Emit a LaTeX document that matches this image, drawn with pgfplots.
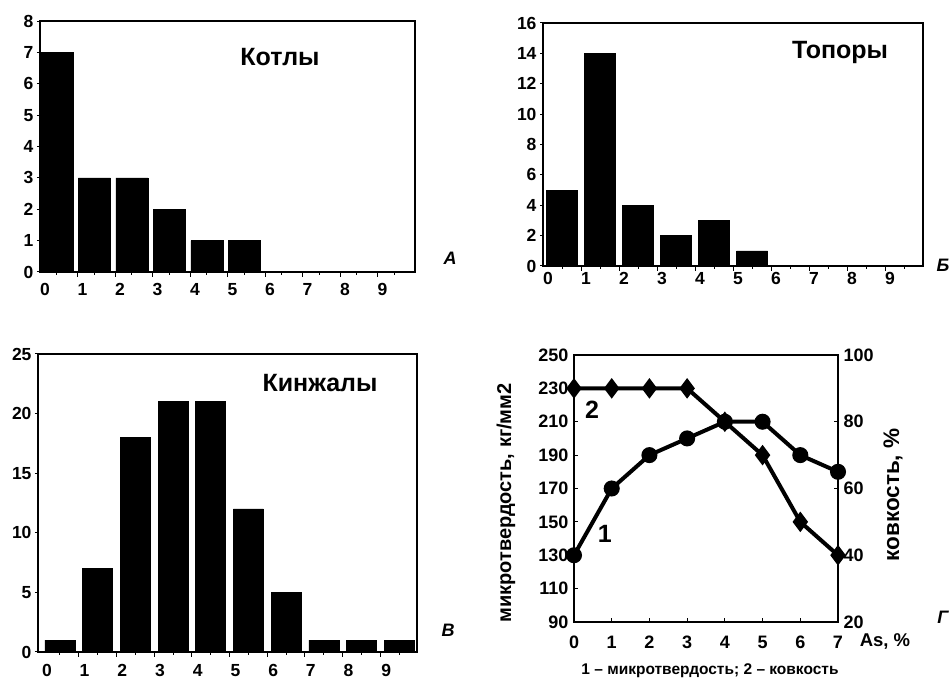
\documentclass[border=0pt]{standalone}
\usepackage{fontspec}
\setmainfont{Liberation Sans}
\usepackage{pgfplots}
\pgfplotsset{compat=1.18}
\newcommand\fs[1]{\fontsize{#1}{#1}\selectfont}

\pgfplotsset{
  hist/.style={
    scale only axis,
    ybar, bar width=31pt,
    axis line style={line width=1.3pt},
    every tick/.style={black, line width=1pt},
    xtick pos=bottom, ytick pos=left,
    tick align=outside, major tick length=3pt,
    /pgf/number format/assume math mode=true,
    tick label style={font=\fs{17.5}\bfseries},
    xtick={0,...,9},
    extra x tick style={xticklabel=\empty, major tick length=5pt},
    ymin=0,
  },
  bars/.style={fill=black, draw=black, line width=0.6pt},
}

\begin{document}
\begin{tikzpicture}[x=1pt, y=1pt]
\path[use as bounding box] (0,0) rectangle (951,679);

% A -- Котлы
\begin{axis}[hist, at={(40pt,407pt)}, anchor=south west, width=375pt, height=251pt,
  xmin=-0.45, xmax=9.55, ymax=8, ytick={0,...,8}, bar width=32pt,
  xticklabel style={anchor=base, xshift=-12pt, yshift=-21pt},
  extra x ticks={0.55,1.55,...,8.55}]
\addplot[bars] coordinates {(0,7) (1,3) (2,3) (3,2) (4,1) (5,1)};
\end{axis}
\node[font=\fs{25}\bfseries] at (280,622) {Котлы};
\node[font=\fs{18}\bfseries\itshape] at (450,421) {А};

% Б -- Топоры
\begin{axis}[hist, at={(543pt,413pt)}, anchor=south west, width=380pt, height=243pt,
  xmin=-0.5, xmax=9.5, ymax=16, ytick={0,2,...,16},
  xticklabel style={anchor=base, xshift=-14pt, yshift=-16pt},
  extra x ticks={0.5,1.5,...,8.5}]
\addplot[bars] coordinates {(0,5) (1,14) (2,4) (3,2) (4,3) (5,1)};
\end{axis}
\node[font=\fs{25}\bfseries] at (840,626) {Топоры};
\node[font=\fs{18}\bfseries\itshape] at (943,414) {Б};

% В -- Кинжалы
\begin{axis}[hist, at={(38pt,27pt)}, anchor=south west, width=379pt, height=298pt,
  xmin=-0.58, xmax=9.47, ymax=25, ytick={0,5,...,25}, bar width=30pt,
  xticklabel style={anchor=base, xshift=-13pt, yshift=-22pt},
  extra x ticks={0.5,1.5,...,8.5}]
\addplot[bars] coordinates {(0,1) (1,7) (2,18) (3,21) (4,21) (5,12) (6,5) (7,1) (8,1) (9,1)};
\end{axis}
\node[font=\fs{25}\bfseries] at (320,296) {Кинжалы};
\node[font=\fs{18}\bfseries\itshape] at (448,49) {В};

% Г -- микротвердость и ковкость
\begin{axis}[scale only axis, at={(574pt,57pt)}, anchor=south west, width=264pt, height=267pt,
  xmin=0, xmax=7, ymin=90, ymax=250, xtick={0,...,7}, ytick={90,110,...,250},
  axis line style={line width=1.3pt}, every tick/.style={black, line width=1pt},
  xtick pos=bottom, ytick pos=left, tick align=inside, major tick length=4pt,
  /pgf/number format/assume math mode=true,
  tick label style={font=\fs{18}\bfseries},
  xticklabel style={anchor=base, yshift=-27pt}, yticklabel style={xshift=-2pt}]
\addplot[black, line width=4pt, mark=*, mark size=6pt] coordinates {
  (0,130) (1,170) (2,190) (3,200) (4,210) (5,210) (6,190) (7,180)};
\node[font=\fs{25}\bfseries] at (axis cs:0.48,217) {2};
\node[font=\fs{25}\bfseries] at (axis cs:0.82,143) {1};
\end{axis}
\begin{axis}[scale only axis, at={(574pt,57pt)}, anchor=south west, width=264pt, height=267pt,
  xmin=0, xmax=7, ymin=20, ymax=100, ytick={20,40,...,100},
  axis x line=none, axis y line*=right,
  axis line style={line width=1.3pt}, every tick/.style={black, line width=1pt},
  tick align=inside, major tick length=4pt,
  /pgf/number format/assume math mode=true,
  tick label style={font=\fs{18}\bfseries}, yticklabel style={xshift=2pt}]
\addplot[black, line width=4pt, mark=diamond*, mark size=7pt] coordinates {
  (0,90) (1,90) (2,90) (3,90) (4,80) (5,70) (6,50) (7,40)};
\end{axis}
\node[font=\fs{20}\bfseries, rotate=90] at (506,176) {микротвердость, кг/мм2};
\node[font=\fs{22.5}\bfseries, rotate=90] at (893,184) {ковкость, \%};
\node[font=\fs{18.5}\bfseries] at (885,37) {As, \%};
\node[font=\fs{18}\bfseries\itshape] at (943,62) {Г};
\node[font=\fs{15.5}\bfseries] at (710,8) {1 -- микротвердость; 2 -- ковкость};
\end{tikzpicture}
\end{document}
